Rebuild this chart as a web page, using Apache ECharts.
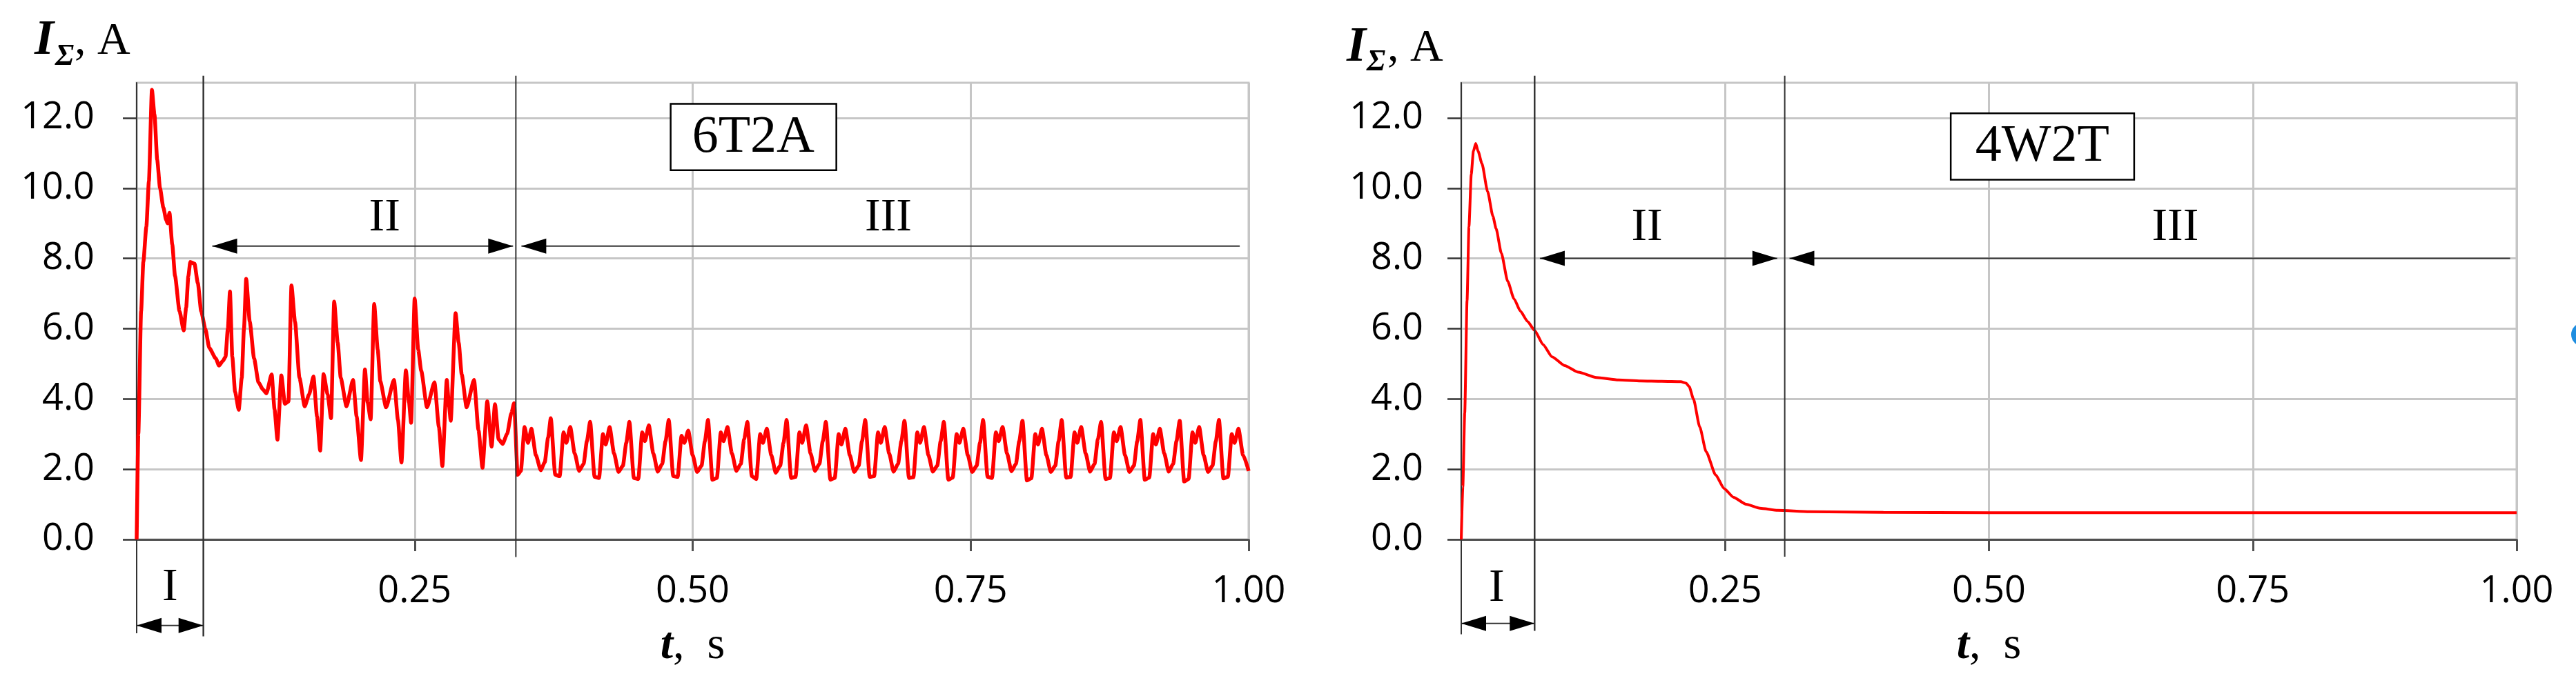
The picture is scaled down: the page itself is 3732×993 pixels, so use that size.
<!DOCTYPE html>
<html>
<head>
<meta charset="utf-8">
<script src="https://cdn.jsdelivr.net/npm/echarts@6/dist/echarts.min.js"></script>
<style>
  html, body { margin: 0; padding: 0; background: #fff; }
  #chart { width: 3732px; height: 993px; }
</style>
</head>
<body>
<div id="chart"></div>
<script>
// ---- data ----
const yTickValues = [0, 2, 4, 6, 8, 10, 12];
const xTickValues = [0.25, 0.5, 0.75, 1.0];
const panelNames = ['6T2A', '4W2T'];
const stageLabels = ['I', 'II', 'III'];

// 6T2A, stages I and II (t in s, current in A)
const t6T2A_I_II = [
  0, 0.0015, 0.0040, 0.0060, 0.0087, 0.0110, 0.0137, 0.0160, 0.0185, 0.0210,
  0.0240, 0.0265, 0.0278, 0.0295, 0.0320, 0.0345, 0.0385, 0.0423, 0.0445, 0.0465,
  0.0482, 0.0520, 0.0550, 0.0580, 0.0617, 0.0653, 0.0712, 0.0740, 0.0775, 0.0799,
  0.0820, 0.0839, 0.0860, 0.0885, 0.0918, 0.0945, 0.0965, 0.0985, 0.1017, 0.1056,
  0.1096, 0.1135, 0.1167, 0.1214, 0.1240, 0.1266, 0.1301, 0.1333, 0.1365, 0.1392,
  0.1424, 0.1464, 0.1511, 0.1551, 0.1590, 0.1622, 0.1650, 0.1681, 0.1717, 0.1748,
  0.1776, 0.1808, 0.1835, 0.1887, 0.1946, 0.1978, 0.2017, 0.2053, 0.2077, 0.2104,
  0.2136, 0.2168, 0.2191, 0.2243, 0.2314, 0.2350, 0.2381, 0.2421, 0.2449, 0.2468,
  0.2500, 0.2532, 0.2559, 0.2611, 0.2678, 0.2718, 0.2749, 0.2789, 0.2809, 0.2824,
  0.2868, 0.2896, 0.2923, 0.2967, 0.3034, 0.3074, 0.3110, 0.3153, 0.3192, 0.3222,
  0.3255, 0.3291, 0.3331, 0.3370, 0.3394, 0.3426, 0.3455, 0.3488, 0.3519, 0.3550,
  0.3590, 0.3634, 0.3670, 0.3700
];
const i6T2A_I_II = [
  0, 3.0, 6.5, 7.9, 8.9, 10.2, 12.8, 12.1, 10.8, 10.0,
  9.45, 9.1, 9.0, 9.3, 8.4, 7.5, 6.5, 5.95, 6.6, 7.5,
  7.9, 7.85, 7.3, 6.5, 6.0, 5.45, 5.15, 4.95, 5.08, 5.2,
  6.0, 7.06, 5.2, 4.2, 3.69, 4.6, 6.0, 7.42, 6.2, 5.15,
  4.47, 4.27, 4.16, 4.7, 3.7, 2.84, 4.67, 3.86, 3.93, 7.23,
  6.2, 4.6, 3.79, 4.13, 4.64, 3.5, 2.53, 4.71, 4.13, 3.45,
  6.77, 5.6, 4.6, 3.79, 4.54, 3.5, 2.26, 4.84, 3.9, 3.42,
  6.7, 5.4, 4.5, 3.76, 4.54, 3.4, 2.19, 4.81, 3.9, 3.32,
  6.86, 5.4, 4.8, 3.76, 4.47, 3.2, 2.09, 4.54, 3.8, 3.38,
  6.44, 5.6, 4.7, 3.76, 4.54, 3.11, 2.04, 3.93, 2.64, 3.85,
  2.85, 2.72, 3.0, 3.6, 3.88, 1.84, 1.95, 3.2, 2.75, 3.15,
  2.4, 1.97, 2.2, 2.9
];

// 6T2A, stage III (one row per oscillation period)
const t6T2A_III = [
  0.3724, 0.3764, 0.3804, 0.3839, 0.3864, 0.3899, 0.3939, 0.3979, 0.4019, 0.4049,
  0.4078, 0.4118, 0.4158, 0.4193, 0.4218, 0.4253, 0.4293, 0.4333, 0.4373, 0.4403,
  0.4431, 0.4471, 0.4511, 0.4546, 0.4571, 0.4606, 0.4646, 0.4686, 0.4726, 0.4756,
  0.4785, 0.4825, 0.4865, 0.4900, 0.4925, 0.4960, 0.5000, 0.5040, 0.5080, 0.5110,
  0.5138, 0.5178, 0.5218, 0.5253, 0.5278, 0.5313, 0.5353, 0.5393, 0.5433, 0.5463,
  0.5492, 0.5532, 0.5572, 0.5607, 0.5632, 0.5667, 0.5707, 0.5747, 0.5787, 0.5817,
  0.5845, 0.5885, 0.5925, 0.5960, 0.5985, 0.6020, 0.6060, 0.6100, 0.6140, 0.6170,
  0.6198, 0.6238, 0.6278, 0.6313, 0.6338, 0.6373, 0.6413, 0.6453, 0.6493, 0.6523,
  0.6552, 0.6592, 0.6632, 0.6667, 0.6692, 0.6727, 0.6767, 0.6807, 0.6847, 0.6877,
  0.6905, 0.6945, 0.6985, 0.7020, 0.7045, 0.7080, 0.7120, 0.7160, 0.7200, 0.7230,
  0.7259, 0.7299, 0.7339, 0.7374, 0.7399, 0.7434, 0.7474, 0.7514, 0.7554, 0.7584,
  0.7612, 0.7652, 0.7692, 0.7727, 0.7752, 0.7787, 0.7827, 0.7867, 0.7907, 0.7937,
  0.7966, 0.8006, 0.8046, 0.8081, 0.8106, 0.8141, 0.8181, 0.8221, 0.8261, 0.8291,
  0.8319, 0.8359, 0.8399, 0.8434, 0.8459, 0.8494, 0.8534, 0.8574, 0.8614, 0.8644,
  0.8673, 0.8713, 0.8753, 0.8788, 0.8813, 0.8848, 0.8888, 0.8928, 0.8968, 0.8998,
  0.9026, 0.9066, 0.9106, 0.9141, 0.9166, 0.9201, 0.9241, 0.9281, 0.9321, 0.9351,
  0.9380, 0.9420, 0.9460, 0.9495, 0.9520, 0.9555, 0.9595, 0.9635, 0.9675, 0.9705,
  0.9733, 0.9773, 0.9813, 0.9848, 0.9873, 0.9908, 0.9950, 1.0000
];
const i6T2A_III = [
  3.45, 1.84, 1.80, 3.05, 2.75, 3.20, 2.45, 1.95, 2.15, 2.80,
  3.35, 1.78, 1.75, 3.00, 2.70, 3.20, 2.45, 1.92, 2.10, 2.75,
  3.35, 1.75, 1.72, 3.05, 2.80, 3.25, 2.45, 1.93, 2.15, 2.80,
  3.40, 1.80, 1.78, 2.95, 2.75, 3.10, 2.40, 1.92, 2.10, 2.80,
  3.40, 1.70, 1.75, 3.05, 2.80, 3.20, 2.45, 1.95, 2.15, 2.85,
  3.35, 1.80, 1.72, 3.00, 2.75, 3.15, 2.40, 1.90, 2.10, 2.75,
  3.40, 1.75, 1.78, 3.05, 2.75, 3.25, 2.45, 1.95, 2.15, 2.80,
  3.35, 1.70, 1.75, 3.00, 2.70, 3.15, 2.40, 1.92, 2.10, 2.80,
  3.40, 1.78, 1.80, 3.05, 2.75, 3.20, 2.45, 1.93, 2.15, 2.80,
  3.38, 1.75, 1.77, 3.05, 2.75, 3.20, 2.40, 1.93, 2.10, 2.80,
  3.35, 1.70, 1.76, 3.00, 2.75, 3.15, 2.40, 1.92, 2.10, 2.75,
  3.40, 1.78, 1.75, 3.05, 2.80, 3.20, 2.45, 1.94, 2.15, 2.80,
  3.38, 1.68, 1.74, 3.00, 2.70, 3.15, 2.40, 1.92, 2.10, 2.80,
  3.40, 1.76, 1.78, 3.05, 2.75, 3.20, 2.45, 1.93, 2.15, 2.85,
  3.35, 1.72, 1.75, 3.05, 2.80, 3.20, 2.40, 1.92, 2.10, 2.80,
  3.40, 1.70, 1.76, 3.00, 2.70, 3.15, 2.45, 1.93, 2.15, 2.80,
  3.38, 1.65, 1.72, 3.05, 2.75, 3.20, 2.40, 1.92, 2.10, 2.80,
  3.40, 1.74, 1.78, 3.00, 2.75, 3.15, 2.40, 1.95
];

// 4W2T
const t4W2T = [
  0, 0.0015, 0.0033, 0.0055, 0.0073, 0.0095, 0.0115, 0.0137, 0.0160, 0.0196,
  0.0250, 0.0300, 0.0330, 0.0380, 0.0440, 0.0500, 0.0560, 0.0630, 0.0695, 0.0775,
  0.0860, 0.0980, 0.1110, 0.1280, 0.1490, 0.1700, 0.1900, 0.2080, 0.2130, 0.2160,
  0.2200, 0.2260, 0.2320, 0.2410, 0.2490, 0.2580, 0.2700, 0.2830, 0.3000, 0.3300,
  0.4000, 0.5000, 0.6000, 0.7000, 0.8000, 0.9000, 1.0000
];
const i4W2T = [
  0, 1.5, 3.6, 6.8, 8.9, 10.4, 11.05, 11.27, 11.05, 10.7,
  9.9, 9.2, 8.85, 8.15, 7.35, 6.85, 6.5, 6.2, 5.95, 5.55,
  5.2, 4.95, 4.76, 4.61, 4.54, 4.51, 4.5, 4.49, 4.45, 4.35,
  4.0, 3.2, 2.5, 1.84, 1.45, 1.2, 1.0, 0.89, 0.83, 0.79,
  0.77, 0.76, 0.76, 0.76, 0.76, 0.76, 0.76
];

// stage marks, in data units of each panel
const panels = [
  { grid: 0, name: panelNames[0], bounds: [0.060, 0.341], vTop: 13.2, zeroBottom: -2.67, b1Bottom: -2.76, b2Bottom: -0.5,
    iArrowV: -2.45, iLabel: [0.030, -1.37], arrowV: 8.35, labelV: 9.14,
    iiTips: [0.068, 0.3385], iiiTips: [0.346, 0.992], iiX: 0.223, iiiX: 0.676,
    box: [0.4802, 12.40, 0.6292, 10.51], boxText: [0.5545, 11.42] },
  { grid: 1, name: panelNames[1], bounds: [0.0695, 0.3065], vTop: 13.2, zeroBottom: -2.7, b1Bottom: -2.6, b2Bottom: -0.49,
    iArrowV: -2.39, iLabel: [0.0335, -1.39], arrowV: 8.0, labelV: 8.88,
    iiTips: [0.0745, 0.2994], iiiTips: [0.311, 0.9938], iiX: 0.176, iiiX: 0.6765,
    box: [0.4638, 12.13, 0.6376, 10.24], boxText: [0.5506, 11.18] }
];

const zip = (xs, ys) => xs.map((x, k) => [x, ys[k]]);
const data6T2A = zip(t6T2A_I_II, i6T2A_I_II).concat(zip(t6T2A_III, i6T2A_III));
const data4W2T = zip(t4W2T, i4W2T);

const SERIF = '"Liberation Serif", "Times New Roman", serif';
const SANS = '"Open Sans", "Noto Sans", sans-serif';
const GRID_COLOR = '#c6c6c6';

const chart = echarts.init(document.getElementById('chart'));

const makeX = (i) => ({
  type: 'value', gridIndex: i, min: 0, max: 1, interval: 0.05,
  axisLine: { show: true, lineStyle: { color: '#505050', width: 3 } },
  axisTick: { show: true, length: 17, customValues: xTickValues, lineStyle: { color: '#505050', width: 3 } },
  axisLabel: { customValues: xTickValues, formatter: (v) => v.toFixed(2), margin: 49,
    fontFamily: SANS, fontSize: 54, color: '#000' },
  splitLine: { show: true, lineStyle: { color: GRID_COLOR, width: 3 } },
  name: '{t|t}{c|,  s}', nameLocation: 'middle', nameGap: 122,
  nameTextStyle: { rich: {
    t: { fontFamily: SERIF, fontSize: 66, fontStyle: 'italic', fontWeight: 'bold', color: '#000' },
    c: { fontFamily: SERIF, fontSize: 66, color: '#000' }
  } }
});

const makeY = (i, margin) => ({
  type: 'value', gridIndex: i, min: 0, max: 13, interval: 1,
  axisLine: { show: true, lineStyle: { color: '#333', width: 2 } },
  axisTick: { show: true, length: 20, customValues: yTickValues, lineStyle: { color: '#333', width: 2.5 } },
  axisLabel: { customValues: yTickValues, formatter: (v) => v.toFixed(1), margin: margin,
    fontFamily: SANS, fontSize: 54, color: '#000' },
  splitLine: { show: true, lineStyle: { color: GRID_COLOR, width: 3 } }
});

const lineSeries = (i, data, width) => ({
  type: 'line', xAxisIndex: i, yAxisIndex: i, data: data,
  showSymbol: false, smooth: 0.2, smoothMonotone: 'x',
  lineStyle: { color: '#ff0000', width: width }, z: 5
});

chart.setOption({
  animation: false,
  backgroundColor: '#fff',
  grid: [
    { left: 198, top: 120, width: 1611, height: 662, show: true, borderColor: GRID_COLOR, borderWidth: 3, backgroundColor: 'transparent' },
    { left: 2117, top: 120, width: 1529, height: 662, show: true, borderColor: GRID_COLOR, borderWidth: 3, backgroundColor: 'transparent' }
  ],
  xAxis: [makeX(0), makeX(1)],
  yAxis: [makeY(0, 61), makeY(1, 55)],
  series: [lineSeries(0, data6T2A, 5.5), lineSeries(1, data4W2T, 4)]
});

// ---- annotations: stage boundaries, arrows, labels ----
const els = [];
const HEAD_L = 36, HEAD_H = 11;

function seg(a, b, w) {
  els.push({ type: 'line', z: 20, shape: { x1: a[0], y1: a[1], x2: b[0], y2: b[1] },
    style: { stroke: '#333', lineWidth: w || 2 } });
}
function head(tip, dir) {
  // dir -1: points left, +1: points right
  const bx = tip[0] - dir * HEAD_L;
  els.push({ type: 'polygon', z: 21, shape: { points: [[tip[0], tip[1]], [bx, tip[1] - HEAD_H], [bx, tip[1] + HEAD_H]] },
    style: { fill: '#000' } });
}
function label(p, txt, size, opts) {
  els.push({ type: 'text', z: 22, x: p[0], y: p[1],
    style: Object.assign({ text: txt, font: size + 'px ' + SERIF, fill: '#000',
      align: 'center', verticalAlign: 'middle', textAlign: 'center', textVerticalAlign: 'middle' }, opts || {}) });
}

panels.forEach((p) => {
  const P = (t, v) => chart.convertToPixel({ gridIndex: p.grid }, [t, v]);
  seg(P(0, 0), P(0, p.zeroBottom));
  seg(P(p.bounds[0], p.vTop), P(p.bounds[0], p.b1Bottom), 2.5);
  seg(P(p.bounds[1], p.vTop), P(p.bounds[1], p.b2Bottom));

  // stage I arrow (below the axis)
  const ia = P(0, p.iArrowV), ib = P(p.bounds[0], p.iArrowV);
  seg(ia, ib); head(ia, -1); head(ib, 1);
  // stage II arrow
  const a2 = P(p.iiTips[0], p.arrowV), b2 = P(p.iiTips[1], p.arrowV);
  seg(a2, b2); head(a2, -1); head(b2, 1);
  // stage III arrow
  const a3 = P(p.iiiTips[0], p.arrowV), b3 = P(p.iiiTips[1], p.arrowV);
  seg(a3, b3); head(a3, -1);

  label(P(p.iLabel[0], p.iLabel[1]), stageLabels[0], 68);
  label(P(p.iiX, p.labelV), stageLabels[1], 68);
  label(P(p.iiiX, p.labelV), stageLabels[2], 68);

  // panel name box
  const r0 = P(p.box[0], p.box[1]), r1 = P(p.box[2], p.box[3]);
  els.push({ type: 'rect', z: 18, shape: { x: r0[0], y: r0[1], width: r1[0] - r0[0], height: r1[1] - r0[1] },
    style: { fill: '#fff', stroke: '#000', lineWidth: 2.5 } });
  label(P(p.boxText[0], p.boxText[1]), p.name, 76);
});

// y-axis titles I_Σ, A
const yTitles = [
  { x: 50, base: 83, sx: 80, sBase: 98, cx: 108 },
  { x: 1951, base: 93, sx: 1980, sBase: 106, cx: 2010 }
];
yTitles.forEach((yt) => {
  label([yt.x, yt.base - 24], 'I', 72, { font: 'italic bold 72px ' + SERIF, align: 'left', textAlign: 'left' });
  label([yt.sx, yt.sBase - 15], 'Σ', 44, { font: 'italic bold 44px ' + SERIF, align: 'left', textAlign: 'left' });
  label([yt.cx, yt.base - 22], ', A', 66, { align: 'left', textAlign: 'left' });
});

// small blue mark cut by the right edge in the source picture
els.push({ type: 'circle', z: 22, shape: { cx: 3742, cy: 485, r: 17 }, style: { fill: '#1f8ee0' } });

chart.setOption({ graphic: els });
</script>
</body>
</html>
